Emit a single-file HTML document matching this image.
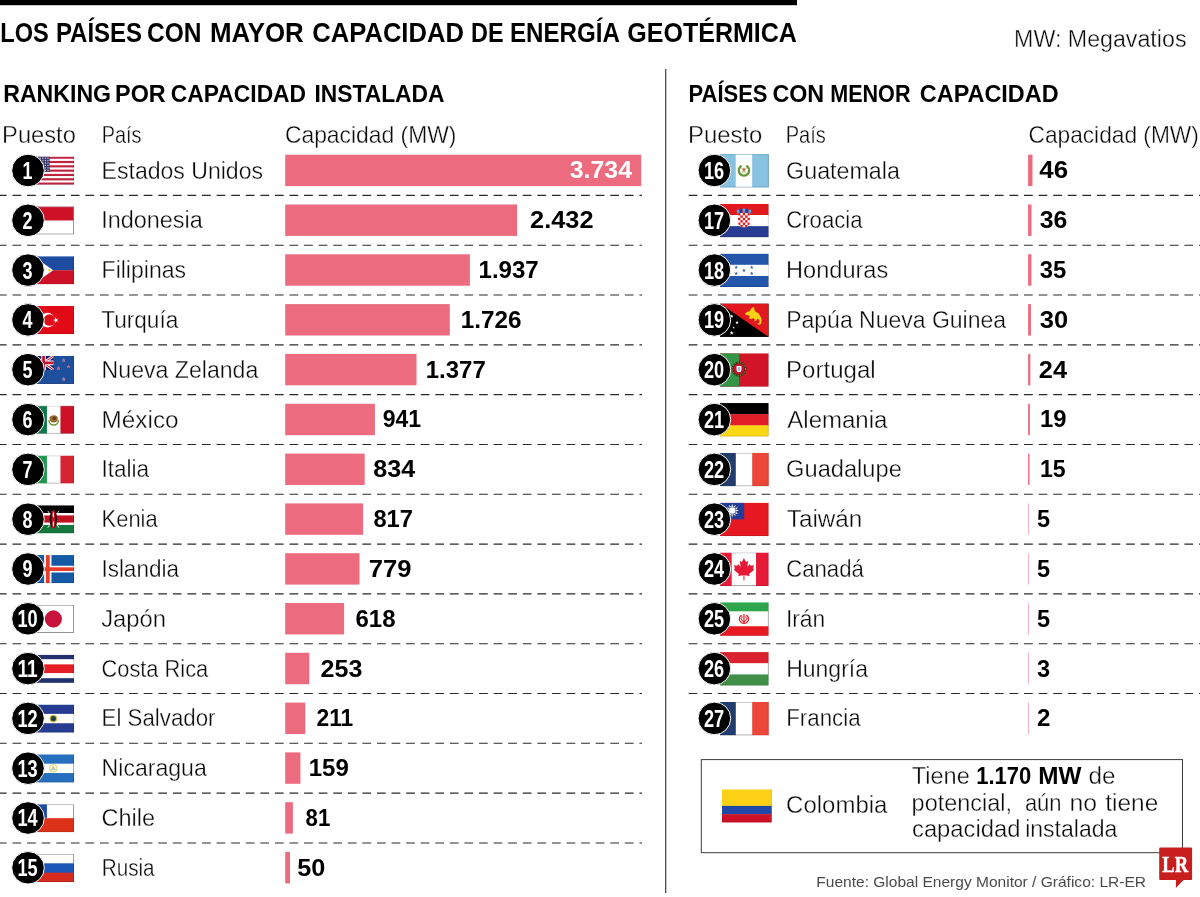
<!DOCTYPE html>
<html lang="es"><head><meta charset="utf-8"><title>Los países con mayor capacidad de energía geotérmica</title>
<style>html,body{margin:0;padding:0;background:#fff}body{width:1200px;height:897px;overflow:hidden}svg{display:block}text{font-family:"Liberation Sans",sans-serif}</style>
</head><body>
<svg width="1200" height="897" viewBox="0 0 1200 897">
<rect width="1200" height="897" fill="#fff"/>
<rect x="0" y="0" width="797" height="5.2" fill="#000"/>
<text x="0.3" y="42.3" font-size="27.8" font-weight="700" fill="#000" textLength="48.5" lengthAdjust="spacingAndGlyphs">LOS</text>
<text x="55.9" y="42.3" font-size="27.8" font-weight="700" fill="#000" textLength="86.2" lengthAdjust="spacingAndGlyphs">PAÍSES</text>
<text x="147.0" y="42.3" font-size="27.8" font-weight="700" fill="#000" textLength="54.5" lengthAdjust="spacingAndGlyphs">CON</text>
<text x="209.9" y="42.3" font-size="27.8" font-weight="700" fill="#000" textLength="93.9" lengthAdjust="spacingAndGlyphs">MAYOR</text>
<text x="312.3" y="42.3" font-size="27.8" font-weight="700" fill="#000" textLength="151.6" lengthAdjust="spacingAndGlyphs">CAPACIDAD</text>
<text x="471.1" y="42.3" font-size="27.8" font-weight="700" fill="#000" textLength="32.6" lengthAdjust="spacingAndGlyphs">DE</text>
<text x="510.0" y="42.3" font-size="27.8" font-weight="700" fill="#000" textLength="109.9" lengthAdjust="spacingAndGlyphs">ENERGÍA</text>
<text x="627.3" y="42.3" font-size="27.8" font-weight="700" fill="#000" textLength="169.6" lengthAdjust="spacingAndGlyphs">GEOTÉRMICA</text>
<text x="1014.1" y="46.8" font-size="23" stroke="#fff" stroke-width="0.35" fill="#0a0a0a" textLength="172.4" lengthAdjust="spacingAndGlyphs">MW: Megavatios</text>
<text x="3.2" y="101.8" font-size="23.9" font-weight="700" fill="#000" textLength="107.9" lengthAdjust="spacingAndGlyphs">RANKING</text>
<text x="115.1" y="101.8" font-size="23.9" font-weight="700" fill="#000" textLength="50.6" lengthAdjust="spacingAndGlyphs">POR</text>
<text x="170.8" y="101.8" font-size="23.9" font-weight="700" fill="#000" textLength="135.3" lengthAdjust="spacingAndGlyphs">CAPACIDAD</text>
<text x="314.4" y="101.8" font-size="23.9" font-weight="700" fill="#000" textLength="130.1" lengthAdjust="spacingAndGlyphs">INSTALADA</text>
<text x="688.5" y="101.8" font-size="23.9" font-weight="700" fill="#000" textLength="79.0" lengthAdjust="spacingAndGlyphs">PAÍSES</text>
<text x="772.4" y="101.8" font-size="23.9" font-weight="700" fill="#000" textLength="51.8" lengthAdjust="spacingAndGlyphs">CON</text>
<text x="830.2" y="101.8" font-size="23.9" font-weight="700" fill="#000" textLength="80.3" lengthAdjust="spacingAndGlyphs">MENOR</text>
<text x="919.8" y="101.8" font-size="23.9" font-weight="700" fill="#000" textLength="138.8" lengthAdjust="spacingAndGlyphs">CAPACIDAD</text>
<rect x="665.1" y="69" width="1.2" height="824" fill="#3c3c3b"/>
<text x="2.1" y="142.8" font-size="24" stroke="#fff" stroke-width="0.35" fill="#0a0a0a" textLength="73.7" lengthAdjust="spacingAndGlyphs">Puesto</text>
<text x="101.7" y="142.8" font-size="24" stroke="#fff" stroke-width="0.35" fill="#0a0a0a" textLength="39.8" lengthAdjust="spacingAndGlyphs">País</text>
<text x="284.9" y="142.8" font-size="24" stroke="#fff" stroke-width="0.35" fill="#0a0a0a" textLength="171.6" lengthAdjust="spacingAndGlyphs">Capacidad (MW)</text>
<text x="688.1" y="142.8" font-size="24" stroke="#fff" stroke-width="0.35" fill="#0a0a0a" textLength="74.2" lengthAdjust="spacingAndGlyphs">Puesto</text>
<text x="785.7" y="142.8" font-size="24" stroke="#fff" stroke-width="0.35" fill="#0a0a0a" textLength="40.1" lengthAdjust="spacingAndGlyphs">País</text>
<text x="1028.5" y="142.8" font-size="24" stroke="#fff" stroke-width="0.35" fill="#0a0a0a" textLength="170.3" lengthAdjust="spacingAndGlyphs">Capacidad (MW)</text>
<line x1="0" y1="195.41" x2="642" y2="195.41" stroke="#2a2a2a" stroke-width="1.1" stroke-dasharray="8.75 5.83" stroke-dashoffset="2.1"/>
<line x1="0" y1="245.22" x2="642" y2="245.22" stroke="#2a2a2a" stroke-width="1.1" stroke-dasharray="8.75 5.83" stroke-dashoffset="2.1"/>
<line x1="0" y1="295.02" x2="642" y2="295.02" stroke="#2a2a2a" stroke-width="1.1" stroke-dasharray="8.75 5.83" stroke-dashoffset="2.1"/>
<line x1="0" y1="344.84" x2="642" y2="344.84" stroke="#2a2a2a" stroke-width="1.1" stroke-dasharray="8.75 5.83" stroke-dashoffset="2.1"/>
<line x1="0" y1="394.64" x2="642" y2="394.64" stroke="#2a2a2a" stroke-width="1.1" stroke-dasharray="8.75 5.83" stroke-dashoffset="2.1"/>
<line x1="0" y1="444.46" x2="642" y2="444.46" stroke="#2a2a2a" stroke-width="1.1" stroke-dasharray="8.75 5.83" stroke-dashoffset="2.1"/>
<line x1="0" y1="494.26" x2="642" y2="494.26" stroke="#2a2a2a" stroke-width="1.1" stroke-dasharray="8.75 5.83" stroke-dashoffset="2.1"/>
<line x1="0" y1="544.08" x2="642" y2="544.08" stroke="#2a2a2a" stroke-width="1.1" stroke-dasharray="8.75 5.83" stroke-dashoffset="2.1"/>
<line x1="0" y1="593.88" x2="642" y2="593.88" stroke="#2a2a2a" stroke-width="1.1" stroke-dasharray="8.75 5.83" stroke-dashoffset="2.1"/>
<line x1="0" y1="643.69" x2="642" y2="643.69" stroke="#2a2a2a" stroke-width="1.1" stroke-dasharray="8.75 5.83" stroke-dashoffset="2.1"/>
<line x1="0" y1="693.50" x2="642" y2="693.50" stroke="#2a2a2a" stroke-width="1.1" stroke-dasharray="8.75 5.83" stroke-dashoffset="2.1"/>
<line x1="0" y1="743.32" x2="642" y2="743.32" stroke="#2a2a2a" stroke-width="1.1" stroke-dasharray="8.75 5.83" stroke-dashoffset="2.1"/>
<line x1="0" y1="793.12" x2="642" y2="793.12" stroke="#2a2a2a" stroke-width="1.1" stroke-dasharray="8.75 5.83" stroke-dashoffset="2.1"/>
<line x1="0" y1="842.93" x2="642" y2="842.93" stroke="#2a2a2a" stroke-width="1.1" stroke-dasharray="8.75 5.83" stroke-dashoffset="2.1"/>
<line x1="688.7" y1="195.41" x2="1200" y2="195.41" stroke="#2a2a2a" stroke-width="1.1" stroke-dasharray="8.75 5.83"/>
<line x1="688.7" y1="245.22" x2="1200" y2="245.22" stroke="#2a2a2a" stroke-width="1.1" stroke-dasharray="8.75 5.83"/>
<line x1="688.7" y1="295.02" x2="1200" y2="295.02" stroke="#2a2a2a" stroke-width="1.1" stroke-dasharray="8.75 5.83"/>
<line x1="688.7" y1="344.84" x2="1200" y2="344.84" stroke="#2a2a2a" stroke-width="1.1" stroke-dasharray="8.75 5.83"/>
<line x1="688.7" y1="394.64" x2="1200" y2="394.64" stroke="#2a2a2a" stroke-width="1.1" stroke-dasharray="8.75 5.83"/>
<line x1="688.7" y1="444.46" x2="1200" y2="444.46" stroke="#2a2a2a" stroke-width="1.1" stroke-dasharray="8.75 5.83"/>
<line x1="688.7" y1="494.26" x2="1200" y2="494.26" stroke="#2a2a2a" stroke-width="1.1" stroke-dasharray="8.75 5.83"/>
<line x1="688.7" y1="544.08" x2="1200" y2="544.08" stroke="#2a2a2a" stroke-width="1.1" stroke-dasharray="8.75 5.83"/>
<line x1="688.7" y1="593.88" x2="1200" y2="593.88" stroke="#2a2a2a" stroke-width="1.1" stroke-dasharray="8.75 5.83"/>
<line x1="688.7" y1="643.69" x2="1200" y2="643.69" stroke="#2a2a2a" stroke-width="1.1" stroke-dasharray="8.75 5.83"/>
<line x1="688.7" y1="693.50" x2="1200" y2="693.50" stroke="#2a2a2a" stroke-width="1.1" stroke-dasharray="8.75 5.83"/>
<svg x="33.40" y="156.60" width="40.60" height="28.10" viewBox="0 0 40.60 28.10" overflow="hidden"><rect x="0.00" y="0.00" width="40.60" height="28.10" fill="#fff"/><rect x="0.00" y="0.00" width="40.60" height="2.16" fill="#bf2340"/><rect x="0.00" y="4.32" width="40.60" height="2.16" fill="#bf2340"/><rect x="0.00" y="8.65" width="40.60" height="2.16" fill="#bf2340"/><rect x="0.00" y="12.97" width="40.60" height="2.16" fill="#bf2340"/><rect x="0.00" y="17.29" width="40.60" height="2.16" fill="#bf2340"/><rect x="0.00" y="21.62" width="40.60" height="2.16" fill="#bf2340"/><rect x="0.00" y="25.94" width="40.60" height="2.16" fill="#bf2340"/><rect x="0.00" y="0.00" width="16.24" height="15.13" fill="#3c3b6e"/><circle cx="1.68" cy="1.56" r="0.62" fill="#e4e4f0"/><circle cx="4.25" cy="1.56" r="0.62" fill="#e4e4f0"/><circle cx="6.83" cy="1.56" r="0.62" fill="#e4e4f0"/><circle cx="9.41" cy="1.56" r="0.62" fill="#e4e4f0"/><circle cx="11.99" cy="1.56" r="0.62" fill="#e4e4f0"/><circle cx="14.56" cy="1.56" r="0.62" fill="#e4e4f0"/><circle cx="1.68" cy="3.96" r="0.62" fill="#e4e4f0"/><circle cx="4.25" cy="3.96" r="0.62" fill="#e4e4f0"/><circle cx="6.83" cy="3.96" r="0.62" fill="#e4e4f0"/><circle cx="9.41" cy="3.96" r="0.62" fill="#e4e4f0"/><circle cx="11.99" cy="3.96" r="0.62" fill="#e4e4f0"/><circle cx="14.56" cy="3.96" r="0.62" fill="#e4e4f0"/><circle cx="1.68" cy="6.36" r="0.62" fill="#e4e4f0"/><circle cx="4.25" cy="6.36" r="0.62" fill="#e4e4f0"/><circle cx="6.83" cy="6.36" r="0.62" fill="#e4e4f0"/><circle cx="9.41" cy="6.36" r="0.62" fill="#e4e4f0"/><circle cx="11.99" cy="6.36" r="0.62" fill="#e4e4f0"/><circle cx="14.56" cy="6.36" r="0.62" fill="#e4e4f0"/><circle cx="1.68" cy="8.77" r="0.62" fill="#e4e4f0"/><circle cx="4.25" cy="8.77" r="0.62" fill="#e4e4f0"/><circle cx="6.83" cy="8.77" r="0.62" fill="#e4e4f0"/><circle cx="9.41" cy="8.77" r="0.62" fill="#e4e4f0"/><circle cx="11.99" cy="8.77" r="0.62" fill="#e4e4f0"/><circle cx="14.56" cy="8.77" r="0.62" fill="#e4e4f0"/><circle cx="1.68" cy="11.17" r="0.62" fill="#e4e4f0"/><circle cx="4.25" cy="11.17" r="0.62" fill="#e4e4f0"/><circle cx="6.83" cy="11.17" r="0.62" fill="#e4e4f0"/><circle cx="9.41" cy="11.17" r="0.62" fill="#e4e4f0"/><circle cx="11.99" cy="11.17" r="0.62" fill="#e4e4f0"/><circle cx="14.56" cy="11.17" r="0.62" fill="#e4e4f0"/><circle cx="1.68" cy="13.57" r="0.62" fill="#e4e4f0"/><circle cx="4.25" cy="13.57" r="0.62" fill="#e4e4f0"/><circle cx="6.83" cy="13.57" r="0.62" fill="#e4e4f0"/><circle cx="9.41" cy="13.57" r="0.62" fill="#e4e4f0"/><circle cx="11.99" cy="13.57" r="0.62" fill="#e4e4f0"/><circle cx="14.56" cy="13.57" r="0.62" fill="#e4e4f0"/><path d="M0 27.80H40.30V0" fill="none" stroke="#000" stroke-opacity="0.3" stroke-width="0.6"/></svg>
<circle cx="28.0" cy="170.5" r="16.3" fill="#000" stroke="#fff" stroke-width="1"/>
<text x="22.6" y="178.9" font-size="24" font-weight="700" fill="#fff" textLength="10.0" lengthAdjust="spacingAndGlyphs">1</text>
<text x="101.6" y="178.5" font-size="24.2" stroke="#fff" stroke-width="0.35" fill="#0a0a0a" textLength="161.4" lengthAdjust="spacingAndGlyphs">Estados Unidos</text>
<rect x="285.2" y="154.7" width="356.0" height="31.4" fill="#ec6b7e"/>
<text x="569.8" y="178.4" font-size="24" font-weight="700" fill="#fff" textLength="62.2" lengthAdjust="spacingAndGlyphs">3.734</text>
<svg x="33.40" y="206.41" width="40.60" height="28.10" viewBox="0 0 40.60 28.10" overflow="hidden"><rect x="0.00" y="0.00" width="40.60" height="28.10" fill="#fff"/><rect x="0.00" y="0.00" width="40.60" height="14.05" fill="#ce1126"/><rect x="0.4" y="0.4" width="39.80" height="27.30" fill="none" stroke="#9d9d9c" stroke-width="0.8"/><path d="M0 27.80H40.30V0" fill="none" stroke="#000" stroke-opacity="0.3" stroke-width="0.6"/></svg>
<circle cx="28.0" cy="220.3" r="16.3" fill="#000" stroke="#fff" stroke-width="1"/>
<text x="22.6" y="228.7" font-size="24" font-weight="700" fill="#fff" textLength="10.0" lengthAdjust="spacingAndGlyphs">2</text>
<text x="101.3" y="228.3" font-size="24.2" stroke="#fff" stroke-width="0.35" fill="#0a0a0a" textLength="101.5" lengthAdjust="spacingAndGlyphs">Indonesia</text>
<rect x="285.2" y="204.5" width="231.9" height="31.4" fill="#ec6b7e"/>
<text x="530.1" y="228.2" font-size="24" font-weight="700" fill="#000" textLength="63.4" lengthAdjust="spacingAndGlyphs">2.432</text>
<svg x="33.40" y="256.22" width="40.60" height="28.10" viewBox="0 0 40.60 28.10" overflow="hidden"><rect x="0.00" y="0.00" width="40.60" height="14.25" fill="#1c4ba0"/><rect x="0.00" y="14.05" width="40.60" height="14.05" fill="#ce1126"/><polygon points="0,0 19.81,14.05 0,28.1" fill="#fff"/><polygon points="17.94,14.05 16.49,14.52 16.49,16.05 15.59,14.82 14.13,15.29 15.03,14.05 14.13,12.81 15.59,13.28 16.49,12.05 16.49,13.58" fill="#fcd116"/><circle cx="6.50" cy="14.05" r="2.81" fill="#fcd116"/><path d="M0 27.80H40.30V0" fill="none" stroke="#000" stroke-opacity="0.3" stroke-width="0.6"/></svg>
<circle cx="28.0" cy="270.1" r="16.3" fill="#000" stroke="#fff" stroke-width="1"/>
<text x="22.6" y="278.5" font-size="24" font-weight="700" fill="#fff" textLength="10.0" lengthAdjust="spacingAndGlyphs">3</text>
<text x="101.6" y="278.1" font-size="24.2" stroke="#fff" stroke-width="0.35" fill="#0a0a0a" textLength="84.4" lengthAdjust="spacingAndGlyphs">Filipinas</text>
<rect x="285.2" y="254.3" width="184.7" height="31.4" fill="#ec6b7e"/>
<text x="478.6" y="278.0" font-size="24" font-weight="700" fill="#000" textLength="60.1" lengthAdjust="spacingAndGlyphs">1.937</text>
<svg x="33.40" y="306.03" width="40.60" height="28.10" viewBox="0 0 40.60 28.10" overflow="hidden"><rect x="0.00" y="0.00" width="40.60" height="28.10" fill="#e30a17"/><circle cx="14.21" cy="14.05" r="7.31" fill="#fff"/><circle cx="16.04" cy="14.05" r="5.76" fill="#e30a17"/><polygon points="19.58,14.05 21.62,13.39 21.62,11.24 22.88,12.98 24.92,12.32 23.66,14.05 24.92,15.78 22.88,15.12 21.62,16.86 21.62,14.71" fill="#fff"/><path d="M0 27.80H40.30V0" fill="none" stroke="#000" stroke-opacity="0.3" stroke-width="0.6"/></svg>
<circle cx="28.0" cy="319.9" r="16.3" fill="#000" stroke="#fff" stroke-width="1"/>
<text x="22.6" y="328.3" font-size="24" font-weight="700" fill="#fff" textLength="10.0" lengthAdjust="spacingAndGlyphs">4</text>
<text x="101.2" y="327.9" font-size="24.2" stroke="#fff" stroke-width="0.35" fill="#0a0a0a" textLength="77.1" lengthAdjust="spacingAndGlyphs">Turquía</text>
<rect x="285.2" y="304.1" width="164.6" height="31.4" fill="#ec6b7e"/>
<text x="460.8" y="327.8" font-size="24" font-weight="700" fill="#000" textLength="60.7" lengthAdjust="spacingAndGlyphs">1.726</text>
<svg x="33.40" y="355.84" width="40.60" height="28.10" viewBox="0 0 40.60 28.10" overflow="hidden"><rect x="0.00" y="0.00" width="40.60" height="28.10" fill="#1d4f9c"/><svg x="0" y="0" width="20.30" height="14.05" viewBox="0 0 20.30 14.05" overflow="hidden"><rect x="0.00" y="0.00" width="20.30" height="14.05" fill="#012169"/><path d="M0 0L20.3 14.05M20.3 0L0 14.05" stroke="#fff" stroke-width="2.81"/><path d="M0 0L20.3 14.05M20.3 0L0 14.05" stroke="#c8102e" stroke-width="1.12"/><path d="M10.15 0V14.05M0 7.025H20.3" stroke="#fff" stroke-width="4.64"/><path d="M10.15 0V14.05M0 7.025H20.3" stroke="#c8102e" stroke-width="2.81"/></svg><polygon points="30.29,2.26 30.79,3.80 32.42,3.80 31.10,4.76 31.60,6.31 30.29,5.35 28.97,6.31 29.47,4.76 28.16,3.80 29.78,3.80" fill="#9fb4dc"/><polygon points="30.29,2.95 30.63,4.02 31.76,4.02 30.85,4.68 31.20,5.75 30.29,5.09 29.38,5.75 29.73,4.68 28.82,4.02 29.94,4.02" fill="#e0456a"/><polygon points="35.12,8.64 35.58,10.05 37.06,10.05 35.86,10.92 36.32,12.33 35.12,11.46 33.92,12.33 34.38,10.92 33.18,10.05 34.66,10.05" fill="#9fb4dc"/><polygon points="35.12,9.27 35.43,10.24 36.46,10.24 35.63,10.84 35.94,11.81 35.12,11.21 34.29,11.81 34.61,10.84 33.78,10.24 34.80,10.24" fill="#e0456a"/><polygon points="25.09,10.26 25.59,11.81 27.22,11.81 25.90,12.77 26.41,14.32 25.09,13.36 23.77,14.32 24.28,12.77 22.96,11.81 24.59,11.81" fill="#9fb4dc"/><polygon points="25.09,10.96 25.44,12.03 26.56,12.03 25.65,12.69 26.00,13.75 25.09,13.09 24.18,13.75 24.53,12.69 23.62,12.03 24.74,12.03" fill="#e0456a"/><polygon points="30.29,21.02 30.84,22.71 32.61,22.71 31.18,23.75 31.72,25.44 30.29,24.40 28.85,25.44 29.40,23.75 27.96,22.71 29.74,22.71" fill="#9fb4dc"/><polygon points="30.29,21.78 30.67,22.94 31.89,22.94 30.90,23.66 31.28,24.83 30.29,24.11 29.30,24.83 29.68,23.66 28.68,22.94 29.91,22.94" fill="#e0456a"/><path d="M0 27.80H40.30V0" fill="none" stroke="#000" stroke-opacity="0.3" stroke-width="0.6"/></svg>
<circle cx="28.0" cy="369.7" r="16.3" fill="#000" stroke="#fff" stroke-width="1"/>
<text x="22.6" y="378.1" font-size="24" font-weight="700" fill="#fff" textLength="10.0" lengthAdjust="spacingAndGlyphs">5</text>
<text x="101.6" y="377.7" font-size="24.2" stroke="#fff" stroke-width="0.35" fill="#0a0a0a" textLength="156.7" lengthAdjust="spacingAndGlyphs">Nueva Zelanda</text>
<rect x="285.2" y="353.9" width="131.3" height="31.4" fill="#ec6b7e"/>
<text x="425.8" y="377.6" font-size="24" font-weight="700" fill="#000" textLength="59.9" lengthAdjust="spacingAndGlyphs">1.377</text>
<svg x="33.40" y="405.65" width="40.60" height="28.10" viewBox="0 0 40.60 28.10" overflow="hidden"><rect x="0.00" y="0.00" width="13.83" height="28.10" fill="#0b7a4a"/><rect x="13.53" y="0.00" width="13.83" height="28.10" fill="#fff"/><rect x="27.07" y="0.00" width="13.83" height="28.10" fill="#ce1126"/><path d="M15.52 14.61A4.78 4.78 0 0 0 25.08 14.61" fill="none" stroke="#6f9a3a" stroke-width="1.6"/><ellipse cx="20.30" cy="13.21" rx="4.21" ry="3.65" fill="#9a6b33"/><circle cx="20.86" cy="12.64" r="1.69" fill="#5e3b19"/><path d="M0.3 0.3H40.30" stroke="#9d9d9c" stroke-width="0.5"/><path d="M0.3 27.80H40.30" stroke="#9d9d9c" stroke-width="0.5"/><path d="M0 27.80H40.30V0" fill="none" stroke="#000" stroke-opacity="0.3" stroke-width="0.6"/></svg>
<circle cx="28.0" cy="419.6" r="16.3" fill="#000" stroke="#fff" stroke-width="1"/>
<text x="22.6" y="427.9" font-size="24" font-weight="700" fill="#fff" textLength="10.0" lengthAdjust="spacingAndGlyphs">6</text>
<text x="101.5" y="427.6" font-size="24.2" stroke="#fff" stroke-width="0.35" fill="#0a0a0a" textLength="77.1" lengthAdjust="spacingAndGlyphs">México</text>
<rect x="285.2" y="403.8" width="89.7" height="31.4" fill="#ec6b7e"/>
<text x="382.7" y="427.4" font-size="24" font-weight="700" fill="#000" textLength="38.4" lengthAdjust="spacingAndGlyphs">941</text>
<svg x="33.40" y="455.46" width="40.60" height="28.10" viewBox="0 0 40.60 28.10" overflow="hidden"><rect x="0.00" y="0.00" width="13.83" height="28.10" fill="#1e9a4d"/><rect x="13.53" y="0.00" width="13.83" height="28.10" fill="#fff"/><rect x="27.07" y="0.00" width="13.83" height="28.10" fill="#d62532"/><path d="M13.53 0.3H27.07M13.53 27.80H27.07" stroke="#9d9d9c" stroke-width="0.6"/><path d="M0 27.80H40.30V0" fill="none" stroke="#000" stroke-opacity="0.3" stroke-width="0.6"/></svg>
<circle cx="28.0" cy="469.4" r="16.3" fill="#000" stroke="#fff" stroke-width="1"/>
<text x="22.6" y="477.8" font-size="24" font-weight="700" fill="#fff" textLength="10.0" lengthAdjust="spacingAndGlyphs">7</text>
<text x="101.4" y="477.4" font-size="24.2" stroke="#fff" stroke-width="0.35" fill="#0a0a0a" textLength="47.7" lengthAdjust="spacingAndGlyphs">Italia</text>
<rect x="285.2" y="453.6" width="79.5" height="31.4" fill="#ec6b7e"/>
<text x="373.3" y="477.3" font-size="24" font-weight="700" fill="#000" textLength="41.9" lengthAdjust="spacingAndGlyphs">834</text>
<svg x="33.40" y="505.27" width="40.60" height="28.10" viewBox="0 0 40.60 28.10" overflow="hidden"><rect x="0.00" y="0.00" width="40.60" height="8.09" fill="#000"/><rect x="0.00" y="7.79" width="40.60" height="2.66" fill="#fff"/><rect x="0.00" y="10.15" width="40.60" height="7.48" fill="#c1121f"/><rect x="0.00" y="17.33" width="40.60" height="2.66" fill="#fff"/><rect x="0.00" y="19.69" width="40.60" height="8.71" fill="#14783c"/><path d="M14.36 5.62L25.60 22.48M25.60 5.62L14.36 22.48" stroke="#fff" stroke-width="0.8"/><ellipse cx="19.98" cy="14.05" rx="3.79" ry="9.27" fill="#c1121f"/><path d="M16.18 14.05Q16.32 8.43 18.85 5.34Q17.45 14.05 18.85 22.76Q16.32 19.67 16.18 14.05Z" fill="#1a0a0a"/><path d="M23.77 14.05Q23.63 8.43 21.10 5.34Q22.50 14.05 21.10 22.76Q23.63 19.67 23.77 14.05Z" fill="#1a0a0a"/><ellipse cx="19.98" cy="9.55" rx="0.62" ry="2.81" fill="#fff"/><ellipse cx="19.98" cy="18.55" rx="0.62" ry="2.81" fill="#fff"/><path d="M0 27.80H40.30V0" fill="none" stroke="#000" stroke-opacity="0.3" stroke-width="0.6"/></svg>
<circle cx="28.0" cy="519.2" r="16.3" fill="#000" stroke="#fff" stroke-width="1"/>
<text x="22.6" y="527.6" font-size="24" font-weight="700" fill="#fff" textLength="10.0" lengthAdjust="spacingAndGlyphs">8</text>
<text x="101.6" y="527.2" font-size="24.2" stroke="#fff" stroke-width="0.35" fill="#0a0a0a" textLength="56.1" lengthAdjust="spacingAndGlyphs">Kenia</text>
<rect x="285.2" y="503.4" width="77.9" height="31.4" fill="#ec6b7e"/>
<text x="373.4" y="527.1" font-size="24" font-weight="700" fill="#000" textLength="39.5" lengthAdjust="spacingAndGlyphs">817</text>
<svg x="33.40" y="555.08" width="40.60" height="28.10" viewBox="0 0 40.60 28.10" overflow="hidden"><rect x="0.00" y="0.00" width="40.60" height="28.10" fill="#145aa5"/><rect x="10.76" y="0.00" width="7.31" height="28.10" fill="#fff"/><rect x="0.00" y="10.68" width="40.60" height="6.74" fill="#fff"/><rect x="12.50" y="0.00" width="3.82" height="28.10" fill="#e83c28"/><rect x="0.00" y="12.22" width="40.60" height="3.65" fill="#e83c28"/><path d="M0 27.80H40.30V0" fill="none" stroke="#000" stroke-opacity="0.3" stroke-width="0.6"/></svg>
<circle cx="28.0" cy="569.0" r="16.3" fill="#000" stroke="#fff" stroke-width="1"/>
<text x="22.6" y="577.4" font-size="24" font-weight="700" fill="#fff" textLength="10.0" lengthAdjust="spacingAndGlyphs">9</text>
<text x="101.4" y="577.0" font-size="24.2" stroke="#fff" stroke-width="0.35" fill="#0a0a0a" textLength="77.5" lengthAdjust="spacingAndGlyphs">Islandia</text>
<rect x="285.2" y="553.2" width="74.3" height="31.4" fill="#ec6b7e"/>
<text x="368.8" y="576.9" font-size="24" font-weight="700" fill="#000" textLength="42.7" lengthAdjust="spacingAndGlyphs">779</text>
<svg x="33.40" y="604.89" width="40.60" height="28.10" viewBox="0 0 40.60 28.10" overflow="hidden"><rect x="0.00" y="0.00" width="40.60" height="28.10" fill="#fff"/><circle cx="19.98" cy="14.05" r="8.57" fill="#c8143c"/><rect x="0.4" y="0.4" width="39.80" height="27.30" fill="none" stroke="#9d9d9c" stroke-width="0.8"/><path d="M0 27.80H40.30V0" fill="none" stroke="#000" stroke-opacity="0.3" stroke-width="0.6"/></svg>
<circle cx="28.0" cy="618.8" r="16.3" fill="#000" stroke="#fff" stroke-width="1"/>
<text x="17.5" y="627.2" font-size="24" font-weight="700" fill="#fff" textLength="20.2" lengthAdjust="spacingAndGlyphs">10</text>
<text x="101.2" y="626.8" font-size="24.2" stroke="#fff" stroke-width="0.35" fill="#0a0a0a" textLength="64.8" lengthAdjust="spacingAndGlyphs">Japón</text>
<rect x="285.2" y="603.0" width="58.9" height="31.4" fill="#ec6b7e"/>
<text x="355.5" y="626.7" font-size="24" font-weight="700" fill="#000" textLength="40.0" lengthAdjust="spacingAndGlyphs">618</text>
<svg x="33.40" y="654.70" width="40.60" height="28.10" viewBox="0 0 40.60 28.10" overflow="hidden"><rect x="0.00" y="0.00" width="40.60" height="4.91" fill="#23326e"/><rect x="0.00" y="4.61" width="40.60" height="5.37" fill="#fff"/><rect x="0.00" y="9.67" width="40.60" height="9.05" fill="#e61e28"/><rect x="0.00" y="18.43" width="40.60" height="5.37" fill="#fff"/><rect x="0.00" y="23.49" width="40.60" height="4.91" fill="#23326e"/><path d="M0 27.80H40.30V0" fill="none" stroke="#000" stroke-opacity="0.3" stroke-width="0.6"/></svg>
<circle cx="28.0" cy="668.6" r="16.3" fill="#000" stroke="#fff" stroke-width="1"/>
<text x="17.5" y="677.0" font-size="24" font-weight="700" fill="#fff" textLength="20.2" lengthAdjust="spacingAndGlyphs">11</text>
<text x="101.5" y="676.6" font-size="24.2" stroke="#fff" stroke-width="0.35" fill="#0a0a0a" textLength="106.7" lengthAdjust="spacingAndGlyphs">Costa Rica</text>
<rect x="285.2" y="652.8" width="24.1" height="31.4" fill="#ec6b7e"/>
<text x="320.6" y="676.5" font-size="24" font-weight="700" fill="#000" textLength="41.8" lengthAdjust="spacingAndGlyphs">253</text>
<svg x="33.40" y="704.51" width="40.60" height="28.10" viewBox="0 0 40.60 28.10" overflow="hidden"><rect x="0.00" y="0.00" width="40.60" height="9.67" fill="#263c91"/><rect x="0.00" y="9.37" width="40.60" height="9.67" fill="#fff"/><rect x="0.00" y="18.73" width="40.60" height="9.67" fill="#263c91"/><circle cx="19.98" cy="14.05" r="3.93" fill="#e6c84a"/><circle cx="19.98" cy="14.05" r="2.81" fill="#2f5d4a"/><polygon points="19.98,11.52 17.87,15.74 22.08,15.74" fill="#20305e"/><path d="M0 27.80H40.30V0" fill="none" stroke="#000" stroke-opacity="0.3" stroke-width="0.6"/></svg>
<circle cx="28.0" cy="718.4" r="16.3" fill="#000" stroke="#fff" stroke-width="1"/>
<text x="17.5" y="726.8" font-size="24" font-weight="700" fill="#fff" textLength="20.2" lengthAdjust="spacingAndGlyphs">12</text>
<text x="101.6" y="726.4" font-size="24.2" stroke="#fff" stroke-width="0.35" fill="#0a0a0a" textLength="113.9" lengthAdjust="spacingAndGlyphs">El Salvador</text>
<rect x="285.2" y="702.6" width="20.1" height="31.4" fill="#ec6b7e"/>
<text x="316.5" y="726.3" font-size="24" font-weight="700" fill="#000" textLength="36.8" lengthAdjust="spacingAndGlyphs">211</text>
<svg x="33.40" y="754.32" width="40.60" height="28.10" viewBox="0 0 40.60 28.10" overflow="hidden"><rect x="0.00" y="0.00" width="40.60" height="9.67" fill="#266ebe"/><rect x="0.00" y="9.37" width="40.60" height="9.67" fill="#fff"/><rect x="0.00" y="18.73" width="40.60" height="9.67" fill="#266ebe"/><circle cx="19.98" cy="14.05" r="3.79" fill="#fdfbe9" stroke="#d9c45a" stroke-width="0.9"/><polygon points="19.98,11.80 17.73,15.74 22.22,15.74" fill="#a8cfe6" stroke="#c9b85a" stroke-width="0.4"/><path d="M40.30 9.37V18.73" stroke="#9d9d9c" stroke-width="0.6"/><path d="M0 27.80H40.30V0" fill="none" stroke="#000" stroke-opacity="0.3" stroke-width="0.6"/></svg>
<circle cx="28.0" cy="768.2" r="16.3" fill="#000" stroke="#fff" stroke-width="1"/>
<text x="17.5" y="776.6" font-size="24" font-weight="700" fill="#fff" textLength="20.2" lengthAdjust="spacingAndGlyphs">13</text>
<text x="101.6" y="776.2" font-size="24.2" stroke="#fff" stroke-width="0.35" fill="#0a0a0a" textLength="105.2" lengthAdjust="spacingAndGlyphs">Nicaragua</text>
<rect x="285.2" y="752.4" width="15.2" height="31.4" fill="#ec6b7e"/>
<text x="308.7" y="776.1" font-size="24" font-weight="700" fill="#000" textLength="40.1" lengthAdjust="spacingAndGlyphs">159</text>
<svg x="33.40" y="804.13" width="40.60" height="28.10" viewBox="0 0 40.60 28.10" overflow="hidden"><rect x="0.00" y="0.00" width="40.60" height="28.10" fill="#fff"/><rect x="0.00" y="14.05" width="40.60" height="14.05" fill="#dc3219"/><rect x="0.00" y="0.00" width="13.53" height="14.05" fill="#1e4ba5"/><polygon points="6.77,3.65 7.52,5.98 9.97,5.98 7.99,7.42 8.75,9.75 6.77,8.31 4.78,9.75 5.54,7.42 3.56,5.98 6.01,5.98" fill="#fff"/><path d="M13.53 0.4H40.20V14.05" fill="none" stroke="#9d9d9c" stroke-width="0.8"/><path d="M0 27.80H40.30V0" fill="none" stroke="#000" stroke-opacity="0.3" stroke-width="0.6"/></svg>
<circle cx="28.0" cy="818.0" r="16.3" fill="#000" stroke="#fff" stroke-width="1"/>
<text x="17.5" y="826.4" font-size="24" font-weight="700" fill="#fff" textLength="20.2" lengthAdjust="spacingAndGlyphs">14</text>
<text x="101.4" y="826.0" font-size="24.2" stroke="#fff" stroke-width="0.35" fill="#0a0a0a" textLength="53.6" lengthAdjust="spacingAndGlyphs">Chile</text>
<rect x="285.2" y="802.2" width="7.7" height="31.4" fill="#ec6b7e"/>
<text x="305.6" y="825.9" font-size="24" font-weight="700" fill="#000" textLength="24.7" lengthAdjust="spacingAndGlyphs">81</text>
<svg x="33.40" y="853.94" width="40.60" height="28.10" viewBox="0 0 40.60 28.10" overflow="hidden"><rect x="0.00" y="0.00" width="40.60" height="9.67" fill="#fff"/><rect x="0.00" y="9.37" width="40.60" height="9.67" fill="#1c57b8"/><rect x="0.00" y="18.73" width="40.60" height="9.67" fill="#d52b1e"/><path d="M0.4 9.37V0.4H40.20V9.37" fill="none" stroke="#9d9d9c" stroke-width="0.8"/><path d="M0 27.80H40.30V0" fill="none" stroke="#000" stroke-opacity="0.3" stroke-width="0.6"/></svg>
<circle cx="28.0" cy="867.8" r="16.3" fill="#000" stroke="#fff" stroke-width="1"/>
<text x="17.5" y="876.2" font-size="24" font-weight="700" fill="#fff" textLength="20.2" lengthAdjust="spacingAndGlyphs">15</text>
<text x="101.7" y="875.8" font-size="24.2" stroke="#fff" stroke-width="0.35" fill="#0a0a0a" textLength="52.9" lengthAdjust="spacingAndGlyphs">Rusia</text>
<rect x="285.2" y="852.0" width="4.8" height="31.4" fill="#ec6b7e"/>
<text x="297.2" y="875.7" font-size="24" font-weight="700" fill="#000" textLength="28.1" lengthAdjust="spacingAndGlyphs">50</text>
<svg x="720.00" y="154.00" width="48.70" height="33.50" viewBox="0 0 48.70 33.50" overflow="hidden"><rect x="0.00" y="0.00" width="16.03" height="33.50" fill="#87c3e1"/><rect x="15.73" y="0.00" width="16.73" height="33.50" fill="#fff"/><rect x="32.17" y="0.00" width="16.83" height="33.50" fill="#87c3e1"/><path d="M21.62 11.82A5.19 5.19 0 1 0 26.30 11.82" fill="none" stroke="#5f9a2f" stroke-width="2.2"/><ellipse cx="23.96" cy="16.08" rx="1.84" ry="2.51" fill="#ead9a0"/><circle cx="23.96" cy="15.24" r="1.00" fill="#d8425a"/><path d="M20.95 19.77L26.98 13.73M26.98 19.77L20.95 13.73" stroke="#8a7a4a" stroke-width="0.6"/><rect x="0.3" y="0.3" width="48.10" height="32.90" fill="none" stroke="#6fa8c9" stroke-width="0.6"/><path d="M0 33.20H48.40V0" fill="none" stroke="#000" stroke-opacity="0.3" stroke-width="0.6"/></svg>
<circle cx="714.4" cy="170.5" r="16.3" fill="#000" stroke="#fff" stroke-width="1"/>
<text x="703.9" y="178.9" font-size="24" font-weight="700" fill="#fff" textLength="20.2" lengthAdjust="spacingAndGlyphs">16</text>
<text x="786.1" y="178.5" font-size="24.2" stroke="#fff" stroke-width="0.35" fill="#0a0a0a" textLength="113.8" lengthAdjust="spacingAndGlyphs">Guatemala</text>
<rect x="1028.1" y="154.7" width="4.39" height="31.4" fill="#ec6b7e"/>
<text x="1039.3" y="178.4" font-size="24" font-weight="700" fill="#000" textLength="28.8" lengthAdjust="spacingAndGlyphs">46</text>
<svg x="720.00" y="203.81" width="48.70" height="33.50" viewBox="0 0 48.70 33.50" overflow="hidden"><rect x="0.00" y="0.00" width="48.70" height="11.47" fill="#e1191f"/><rect x="0.00" y="11.17" width="48.70" height="11.47" fill="#fff"/><rect x="0.00" y="22.33" width="48.70" height="11.47" fill="#283c91"/><clipPath id="hrs"><path d="M17.99 9.21H29.93V17.23Q29.93 23.79 23.96 23.79Q17.99 23.79 17.99 17.23Z"/></clipPath><g clip-path="url(#hrs)"><rect x="17.99" y="9.21" width="11.93" height="14.57" fill="#fff"/><rect x="17.99" y="9.21" width="2.39" height="2.39" fill="#e1191f"/><rect x="22.77" y="9.21" width="2.39" height="2.39" fill="#e1191f"/><rect x="27.54" y="9.21" width="2.39" height="2.39" fill="#e1191f"/><rect x="20.38" y="11.60" width="2.39" height="2.39" fill="#e1191f"/><rect x="25.15" y="11.60" width="2.39" height="2.39" fill="#e1191f"/><rect x="17.99" y="13.99" width="2.39" height="2.39" fill="#e1191f"/><rect x="22.77" y="13.99" width="2.39" height="2.39" fill="#e1191f"/><rect x="27.54" y="13.99" width="2.39" height="2.39" fill="#e1191f"/><rect x="20.38" y="16.37" width="2.39" height="2.39" fill="#e1191f"/><rect x="25.15" y="16.37" width="2.39" height="2.39" fill="#e1191f"/><rect x="17.99" y="18.76" width="2.39" height="2.39" fill="#e1191f"/><rect x="22.77" y="18.76" width="2.39" height="2.39" fill="#e1191f"/><rect x="27.54" y="18.76" width="2.39" height="2.39" fill="#e1191f"/><rect x="20.38" y="21.14" width="2.39" height="2.39" fill="#e1191f"/><rect x="25.15" y="21.14" width="2.39" height="2.39" fill="#e1191f"/><rect x="17.99" y="23.53" width="2.39" height="2.39" fill="#e1191f"/><rect x="22.77" y="23.53" width="2.39" height="2.39" fill="#e1191f"/><rect x="27.54" y="23.53" width="2.39" height="2.39" fill="#e1191f"/></g><rect x="16.81" y="5.62" width="2.62" height="4.19" rx="0.8" fill="#5aa0dc"/><rect x="19.73" y="5.02" width="2.62" height="4.19" rx="0.8" fill="#283c91"/><rect x="22.65" y="4.72" width="2.62" height="4.19" rx="0.8" fill="#5aa0dc"/><rect x="25.57" y="5.02" width="2.62" height="4.19" rx="0.8" fill="#283c91"/><rect x="28.49" y="5.62" width="2.62" height="4.19" rx="0.8" fill="#5aa0dc"/><path d="M0 33.20H48.40V0" fill="none" stroke="#000" stroke-opacity="0.3" stroke-width="0.6"/></svg>
<circle cx="714.4" cy="220.3" r="16.3" fill="#000" stroke="#fff" stroke-width="1"/>
<text x="703.9" y="228.7" font-size="24" font-weight="700" fill="#fff" textLength="20.2" lengthAdjust="spacingAndGlyphs">17</text>
<text x="786.2" y="228.3" font-size="24.2" stroke="#fff" stroke-width="0.35" fill="#0a0a0a" textLength="76.4" lengthAdjust="spacingAndGlyphs">Croacia</text>
<rect x="1028.1" y="204.5" width="3.43" height="31.4" fill="#ec6b7e"/>
<text x="1039.7" y="228.2" font-size="24" font-weight="700" fill="#000" textLength="27.6" lengthAdjust="spacingAndGlyphs">36</text>
<svg x="720.00" y="253.62" width="48.70" height="33.50" viewBox="0 0 48.70 33.50" overflow="hidden"><rect x="0.00" y="0.00" width="48.70" height="11.47" fill="#2355aa"/><rect x="0.00" y="11.17" width="48.70" height="11.47" fill="#fff"/><rect x="0.00" y="22.33" width="48.70" height="11.47" fill="#2355aa"/><polygon points="23.96,14.74 24.41,16.13 25.87,16.13 24.69,16.99 25.14,18.38 23.96,17.52 22.78,18.38 23.23,16.99 22.05,16.13 23.51,16.13" fill="#2355aa"/><polygon points="16.17,11.72 16.62,13.11 18.08,13.11 16.90,13.97 17.35,15.36 16.17,14.50 14.99,15.36 15.44,13.97 14.26,13.11 15.72,13.11" fill="#2355aa"/><polygon points="31.75,11.72 32.20,13.11 33.66,13.11 32.48,13.97 32.93,15.36 31.75,14.50 30.57,15.36 31.02,13.97 29.84,13.11 31.30,13.11" fill="#2355aa"/><polygon points="16.17,17.76 16.62,19.14 18.08,19.14 16.90,20.00 17.35,21.39 16.17,20.53 14.99,21.39 15.44,20.00 14.26,19.14 15.72,19.14" fill="#2355aa"/><polygon points="31.75,17.76 32.20,19.14 33.66,19.14 32.48,20.00 32.93,21.39 31.75,20.53 30.57,21.39 31.02,20.00 29.84,19.14 31.30,19.14" fill="#2355aa"/><path d="M0 33.20H48.40V0" fill="none" stroke="#000" stroke-opacity="0.3" stroke-width="0.6"/></svg>
<circle cx="714.4" cy="270.1" r="16.3" fill="#000" stroke="#fff" stroke-width="1"/>
<text x="703.9" y="278.5" font-size="24" font-weight="700" fill="#fff" textLength="20.2" lengthAdjust="spacingAndGlyphs">18</text>
<text x="786.1" y="278.1" font-size="24.2" stroke="#fff" stroke-width="0.35" fill="#0a0a0a" textLength="102.1" lengthAdjust="spacingAndGlyphs">Honduras</text>
<rect x="1028.1" y="254.3" width="3.34" height="31.4" fill="#ec6b7e"/>
<text x="1039.7" y="278.0" font-size="24" font-weight="700" fill="#000" textLength="26.5" lengthAdjust="spacingAndGlyphs">35</text>
<svg x="720.00" y="303.43" width="48.70" height="33.50" viewBox="0 0 48.70 33.50" overflow="hidden"><rect x="0.00" y="0.00" width="48.70" height="33.50" fill="#000"/><polygon points="0,0 48.7,0 48.7,33.5" fill="#e1191f"/><path transform="translate(33.36 12.06) scale(1.015)" d="M-8.5 -1.5 Q-6 -4.5 -3.5 -4 Q-2 -8.5 0.8 -8 Q0.5 -5 2.5 -3.5 Q5.5 -3 6.5 0 Q8.5 3 8 6.5 Q7.8 9 5.8 9.2 Q4 9 4.2 7.6 Q5.8 8 6.2 6.4 Q6 4 4 3 Q3.5 5.5 1.2 5.8 Q2 3.5 0 2.5 Q-2 4 -4.5 3 Q-3 1.5 -4 0 Q-6 0 -8.5 -1.5Z" fill="#fcd116"/><polygon points="11.69,10.72 12.14,12.11 13.60,12.11 12.42,12.97 12.87,14.36 11.69,13.50 10.51,14.36 10.96,12.97 9.78,12.11 11.24,12.11" fill="#fff"/><polygon points="17.04,17.09 17.50,18.47 18.96,18.47 17.78,19.33 18.23,20.72 17.04,19.86 15.86,20.72 16.31,19.33 15.13,18.47 16.59,18.47" fill="#fff"/><polygon points="13.64,22.78 13.94,23.71 14.91,23.71 14.12,24.28 14.42,25.20 13.64,24.63 12.85,25.20 13.15,24.28 12.36,23.71 13.34,23.71" fill="#fff"/><polygon points="11.69,27.30 12.18,28.81 13.76,28.81 12.48,29.74 12.97,31.24 11.69,30.31 10.41,31.24 10.90,29.74 9.62,28.81 11.20,28.81" fill="#fff"/><path d="M0 33.20H48.40V0" fill="none" stroke="#000" stroke-opacity="0.3" stroke-width="0.6"/></svg>
<circle cx="714.4" cy="319.9" r="16.3" fill="#000" stroke="#fff" stroke-width="1"/>
<text x="703.9" y="328.3" font-size="24" font-weight="700" fill="#fff" textLength="20.2" lengthAdjust="spacingAndGlyphs">19</text>
<text x="786.2" y="327.9" font-size="24.2" stroke="#fff" stroke-width="0.35" fill="#0a0a0a" textLength="219.9" lengthAdjust="spacingAndGlyphs">Papúa Nueva Guinea</text>
<rect x="1028.1" y="304.1" width="2.86" height="31.4" fill="#ec6b7e"/>
<text x="1039.7" y="327.8" font-size="24" font-weight="700" fill="#000" textLength="28.4" lengthAdjust="spacingAndGlyphs">30</text>
<svg x="720.00" y="353.24" width="48.70" height="33.50" viewBox="0 0 48.70 33.50" overflow="hidden"><rect x="0.00" y="0.00" width="48.70" height="33.50" fill="#d21428"/><rect x="0.00" y="0.00" width="18.99" height="33.50" fill="#329646"/><circle cx="18.99" cy="15.74" r="6.53" fill="#c8102e" stroke="#3a3a1a" stroke-width="2"/><circle cx="18.99" cy="15.74" r="6.53" fill="none" stroke="#d8b52a" stroke-width="0.7" stroke-dasharray="1 1.6"/><path d="M16.48 12.73H21.51V16.75Q21.51 19.09 18.99 19.09Q16.48 19.09 16.48 16.75Z" fill="#e9f1f7"/><rect x="17.99" y="14.07" width="2.01" height="3.01" fill="#8fb8dc"/><path d="M0 33.20H48.40V0" fill="none" stroke="#000" stroke-opacity="0.3" stroke-width="0.6"/></svg>
<circle cx="714.4" cy="369.7" r="16.3" fill="#000" stroke="#fff" stroke-width="1"/>
<text x="703.9" y="378.1" font-size="24" font-weight="700" fill="#fff" textLength="20.2" lengthAdjust="spacingAndGlyphs">20</text>
<text x="786.1" y="377.7" font-size="24.2" stroke="#fff" stroke-width="0.35" fill="#0a0a0a" textLength="89.5" lengthAdjust="spacingAndGlyphs">Portugal</text>
<rect x="1028.1" y="353.9" width="2.29" height="31.4" fill="#ec6b7e"/>
<text x="1038.8" y="377.6" font-size="24" font-weight="700" fill="#000" textLength="28.2" lengthAdjust="spacingAndGlyphs">24</text>
<svg x="720.00" y="403.05" width="48.70" height="33.50" viewBox="0 0 48.70 33.50" overflow="hidden"><rect x="0.00" y="0.00" width="48.70" height="11.47" fill="#000"/><rect x="0.00" y="11.17" width="48.70" height="11.47" fill="#e11e28"/><rect x="0.00" y="22.33" width="48.70" height="11.47" fill="#fad714"/><path d="M0 33.20H48.40V0" fill="none" stroke="#000" stroke-opacity="0.3" stroke-width="0.6"/></svg>
<circle cx="714.4" cy="419.6" r="16.3" fill="#000" stroke="#fff" stroke-width="1"/>
<text x="703.9" y="427.9" font-size="24" font-weight="700" fill="#fff" textLength="20.2" lengthAdjust="spacingAndGlyphs">21</text>
<text x="787.3" y="427.6" font-size="24.2" stroke="#fff" stroke-width="0.35" fill="#0a0a0a" textLength="100.1" lengthAdjust="spacingAndGlyphs">Alemania</text>
<rect x="1028.1" y="403.8" width="1.81" height="31.4" fill="#ec6b7e"/>
<text x="1040.0" y="427.4" font-size="24" font-weight="700" fill="#000" textLength="26.5" lengthAdjust="spacingAndGlyphs">19</text>
<svg x="720.00" y="452.86" width="48.70" height="33.50" viewBox="0 0 48.70 33.50" overflow="hidden"><rect x="0.00" y="0.00" width="16.10" height="33.50" fill="#233c6e"/><rect x="15.80" y="0.00" width="16.70" height="33.50" fill="#fff"/><rect x="32.20" y="0.00" width="16.80" height="33.50" fill="#eb4637"/><path d="M15.83 0.3H32.14M15.83 33.20H32.14" stroke="#8a8a8a" stroke-width="0.6"/><path d="M0 33.20H48.40V0" fill="none" stroke="#000" stroke-opacity="0.3" stroke-width="0.6"/></svg>
<circle cx="714.4" cy="469.4" r="16.3" fill="#000" stroke="#fff" stroke-width="1"/>
<text x="703.9" y="477.8" font-size="24" font-weight="700" fill="#fff" textLength="20.2" lengthAdjust="spacingAndGlyphs">22</text>
<text x="786.1" y="477.4" font-size="24.2" stroke="#fff" stroke-width="0.35" fill="#0a0a0a" textLength="115.7" lengthAdjust="spacingAndGlyphs">Guadalupe</text>
<rect x="1028.1" y="453.6" width="1.43" height="31.4" fill="#ec6b7e"/>
<text x="1040.0" y="477.3" font-size="24" font-weight="700" fill="#000" textLength="25.7" lengthAdjust="spacingAndGlyphs">15</text>
<svg x="720.00" y="502.67" width="48.70" height="33.50" viewBox="0 0 48.70 33.50" overflow="hidden"><rect x="0.00" y="0.00" width="48.70" height="33.50" fill="#e61923"/><rect x="0.00" y="0.00" width="24.20" height="16.65" fill="#233c96"/><polygon points="12.27,1.17 13.23,4.31 15.62,2.07 14.88,5.27 18.07,4.52 15.83,6.92 18.97,7.87 15.83,8.83 18.07,11.22 14.88,10.48 15.62,13.67 13.23,11.43 12.27,14.57 11.32,11.43 8.92,13.67 9.67,10.48 6.47,11.22 8.71,8.83 5.57,7.87 8.71,6.92 6.47,4.52 9.67,5.27 8.92,2.07 11.32,4.31" fill="#fff"/><circle cx="12.27" cy="7.87" r="3.85" fill="#233c96"/><circle cx="12.27" cy="7.87" r="3.28" fill="#fff"/><path d="M0 33.20H48.40V0" fill="none" stroke="#000" stroke-opacity="0.3" stroke-width="0.6"/></svg>
<circle cx="714.4" cy="519.2" r="16.3" fill="#000" stroke="#fff" stroke-width="1"/>
<text x="703.9" y="527.6" font-size="24" font-weight="700" fill="#fff" textLength="20.2" lengthAdjust="spacingAndGlyphs">23</text>
<text x="786.8" y="527.2" font-size="24.2" stroke="#fff" stroke-width="0.35" fill="#0a0a0a" textLength="75.4" lengthAdjust="spacingAndGlyphs">Taiwán</text>
<rect x="1028.1" y="503.4" width="0.50" height="31.4" fill="#ec6b7e"/>
<text x="1036.9" y="527.1" font-size="24" font-weight="700" fill="#000" textLength="13.1" lengthAdjust="spacingAndGlyphs">5</text>
<svg x="720.00" y="552.48" width="48.70" height="33.50" viewBox="0 0 48.70 33.50" overflow="hidden"><rect x="0.00" y="0.00" width="48.70" height="33.50" fill="#fff"/><rect x="0.00" y="0.00" width="11.69" height="33.50" fill="#e61937"/><rect x="36.04" y="0.00" width="12.66" height="33.50" fill="#e61937"/><polygon points="23.96,5.51 26.00,9.60 28.25,8.58 27.23,14.20 30.09,11.64 30.70,13.28 34.18,12.66 32.95,16.14 34.18,17.16 29.07,21.45 29.68,23.49 24.42,22.88 24.47,27.99 23.45,27.99 23.50,22.88 18.24,23.49 18.85,21.45 13.74,17.16 14.97,16.14 13.74,12.66 17.22,13.28 17.83,11.64 20.69,14.20 19.67,8.58 21.92,9.60" fill="#e61937"/><path d="M11.69 0.3H36.04M11.69 33.20H36.04" stroke="#8a8a8a" stroke-width="0.6"/><path d="M0 33.20H48.40V0" fill="none" stroke="#000" stroke-opacity="0.3" stroke-width="0.6"/></svg>
<circle cx="714.4" cy="569.0" r="16.3" fill="#000" stroke="#fff" stroke-width="1"/>
<text x="703.9" y="577.4" font-size="24" font-weight="700" fill="#fff" textLength="20.2" lengthAdjust="spacingAndGlyphs">24</text>
<text x="786.2" y="577.0" font-size="24.2" stroke="#fff" stroke-width="0.35" fill="#0a0a0a" textLength="77.6" lengthAdjust="spacingAndGlyphs">Canadá</text>
<rect x="1028.1" y="553.2" width="0.50" height="31.4" fill="#ec6b7e"/>
<text x="1036.9" y="576.9" font-size="24" font-weight="700" fill="#000" textLength="13.1" lengthAdjust="spacingAndGlyphs">5</text>
<svg x="720.00" y="602.29" width="48.70" height="33.50" viewBox="0 0 48.70 33.50" overflow="hidden"><rect x="0.00" y="0.00" width="48.70" height="9.44" fill="#2da54b"/><rect x="0.00" y="9.14" width="48.70" height="15.12" fill="#fff"/><rect x="0.00" y="23.96" width="48.70" height="9.84" fill="#e61923"/><path d="M21.62 12.73A4.52 4.52 0 1 0 26.31 12.73" fill="none" stroke="#e61923" stroke-width="1.3"/><path d="M22.45 14.07A2.51 2.85 0 1 0 25.47 14.07" fill="none" stroke="#e61923" stroke-width="1"/><path d="M23.96 11.73V21.77" stroke="#e61923" stroke-width="1.2"/><path d="M48.40 9.04V24.12" stroke="#8a8a8a" stroke-width="0.6" fill="none"/><path d="M0 33.20H48.40V0" fill="none" stroke="#000" stroke-opacity="0.3" stroke-width="0.6"/></svg>
<circle cx="714.4" cy="618.8" r="16.3" fill="#000" stroke="#fff" stroke-width="1"/>
<text x="703.9" y="627.2" font-size="24" font-weight="700" fill="#fff" textLength="20.2" lengthAdjust="spacingAndGlyphs">25</text>
<text x="785.9" y="626.8" font-size="24.2" stroke="#fff" stroke-width="0.35" fill="#0a0a0a" textLength="39.4" lengthAdjust="spacingAndGlyphs">Irán</text>
<rect x="1028.1" y="603.0" width="0.50" height="31.4" fill="#ec6b7e"/>
<text x="1036.9" y="626.7" font-size="24" font-weight="700" fill="#000" textLength="13.1" lengthAdjust="spacingAndGlyphs">5</text>
<svg x="720.00" y="652.10" width="48.70" height="33.50" viewBox="0 0 48.70 33.50" overflow="hidden"><rect x="0.00" y="0.00" width="48.70" height="11.47" fill="#d8232f"/><rect x="0.00" y="11.17" width="48.70" height="11.47" fill="#fff"/><rect x="0.00" y="22.33" width="48.70" height="11.47" fill="#3f8f47"/><path d="M48.40 11.17V22.33" stroke="#8a8a8a" stroke-width="0.6"/><path d="M0 33.20H48.40V0" fill="none" stroke="#000" stroke-opacity="0.3" stroke-width="0.6"/></svg>
<circle cx="714.4" cy="668.6" r="16.3" fill="#000" stroke="#fff" stroke-width="1"/>
<text x="703.9" y="677.0" font-size="24" font-weight="700" fill="#fff" textLength="20.2" lengthAdjust="spacingAndGlyphs">26</text>
<text x="786.2" y="676.6" font-size="24.2" stroke="#fff" stroke-width="0.35" fill="#0a0a0a" textLength="81.8" lengthAdjust="spacingAndGlyphs">Hungría</text>
<rect x="1028.1" y="652.8" width="0.50" height="31.4" fill="#ec6b7e"/>
<text x="1037.1" y="676.5" font-size="24" font-weight="700" fill="#000" textLength="13.1" lengthAdjust="spacingAndGlyphs">3</text>
<svg x="720.00" y="701.91" width="48.70" height="33.50" viewBox="0 0 48.70 33.50" overflow="hidden"><rect x="0.00" y="0.00" width="16.10" height="33.50" fill="#233c6e"/><rect x="15.80" y="0.00" width="16.70" height="33.50" fill="#fff"/><rect x="32.20" y="0.00" width="16.80" height="33.50" fill="#eb4637"/><path d="M15.83 0.3H32.14M15.83 33.20H32.14" stroke="#8a8a8a" stroke-width="0.6"/><path d="M0 33.20H48.40V0" fill="none" stroke="#000" stroke-opacity="0.3" stroke-width="0.6"/></svg>
<circle cx="714.4" cy="718.4" r="16.3" fill="#000" stroke="#fff" stroke-width="1"/>
<text x="703.9" y="726.8" font-size="24" font-weight="700" fill="#fff" textLength="20.2" lengthAdjust="spacingAndGlyphs">27</text>
<text x="786.2" y="726.4" font-size="24.2" stroke="#fff" stroke-width="0.35" fill="#0a0a0a" textLength="74.4" lengthAdjust="spacingAndGlyphs">Francia</text>
<rect x="1028.1" y="702.6" width="0.50" height="31.4" fill="#ec6b7e"/>
<text x="1036.9" y="726.3" font-size="24" font-weight="700" fill="#000" textLength="13.4" lengthAdjust="spacingAndGlyphs">2</text>
<rect x="701.3" y="759.6" width="481.2" height="93.1" fill="#fff" stroke="#3c3c3b" stroke-width="1"/>
<svg x="722.00" y="789.30" width="49.80" height="33.20" viewBox="0 0 49.80 33.20" overflow="hidden"><rect x="0.00" y="0.00" width="49.80" height="16.90" fill="#fcd116"/><rect x="0.00" y="16.60" width="49.80" height="8.60" fill="#1f47a8"/><rect x="0.00" y="24.90" width="49.80" height="8.60" fill="#ce1126"/><path d="M0 32.90H49.50V0" fill="none" stroke="#000" stroke-opacity="0.3" stroke-width="0.6"/></svg>
<text x="786.1" y="813.0" font-size="24.2" stroke="#fff" stroke-width="0.35" fill="#0a0a0a" textLength="101.3" lengthAdjust="spacingAndGlyphs">Colombia</text>
<text x="911.8" y="784.3" font-size="24.2" stroke="#fff" stroke-width="0.35" fill="#0a0a0a" textLength="58.0" lengthAdjust="spacingAndGlyphs">Tiene</text>
<text x="1088.5" y="784.3" font-size="24.2" stroke="#fff" stroke-width="0.35" fill="#0a0a0a" textLength="27.0" lengthAdjust="spacingAndGlyphs">de</text>
<text x="976.2" y="784.3" font-size="23.599999999999998" font-weight="700" fill="#000" textLength="55.0" lengthAdjust="spacingAndGlyphs">1.170</text>
<text x="1038.3" y="784.3" font-size="23.599999999999998" font-weight="700" fill="#000" textLength="43.2" lengthAdjust="spacingAndGlyphs">MW</text>
<text x="911.6" y="810.6" font-size="24.2" stroke="#fff" stroke-width="0.35" fill="#0a0a0a" textLength="100.5" lengthAdjust="spacingAndGlyphs">potencial,</text>
<text x="1024.9" y="810.6" font-size="24.2" stroke="#fff" stroke-width="0.35" fill="#0a0a0a" textLength="36.6" lengthAdjust="spacingAndGlyphs">aún</text>
<text x="1069.6" y="810.6" font-size="24.2" stroke="#fff" stroke-width="0.35" fill="#0a0a0a" textLength="27.5" lengthAdjust="spacingAndGlyphs">no</text>
<text x="1105.3" y="810.6" font-size="24.2" stroke="#fff" stroke-width="0.35" fill="#0a0a0a" textLength="52.9" lengthAdjust="spacingAndGlyphs">tiene</text>
<text x="912.0" y="836.8" font-size="24.2" stroke="#fff" stroke-width="0.35" fill="#0a0a0a" textLength="108.4" lengthAdjust="spacingAndGlyphs">capacidad</text>
<text x="1025.2" y="836.8" font-size="24.2" stroke="#fff" stroke-width="0.35" fill="#0a0a0a" textLength="92.1" lengthAdjust="spacingAndGlyphs">instalada</text>
<text x="816.3" y="886.8" font-size="15" fill="#4a4a49" textLength="329.7" lengthAdjust="spacingAndGlyphs">Fuente: Global Energy Monitor / Gráfico: LR-ER</text>
<path d="M1160.2 847.5H1191.1a1 1 0 0 1 1 1V879a1 1 0 0 1 -1 1H1183.5L1175.9 888V880H1160.2a1 1 0 0 1 -1 -1V848.5a1 1 0 0 1 1 -1Z" fill="#c81e1e"/>
<text x="1162.3" y="871.8" font-size="23.2" font-weight="700" fill="#fff" stroke="#fff" stroke-width="0.5" textLength="25.8" lengthAdjust="spacingAndGlyphs" style="font-family:'Liberation Serif',serif">LR</text>
</svg>
</body></html>
